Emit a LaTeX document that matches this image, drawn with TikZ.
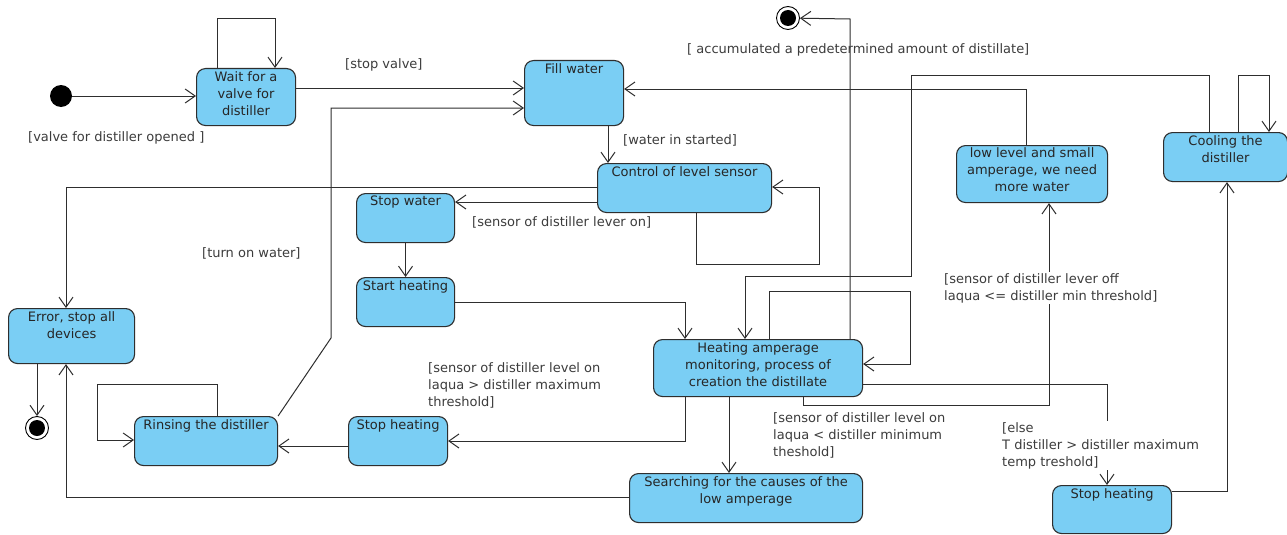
\documentclass[tikz,border=0pt]{standalone}
\usepackage{fontspec}
\setmainfont{DejaVu Sans}
\usetikzlibrary{arrows.meta}
\definecolor{stfill}{HTML}{7ACEF4}
\definecolor{stline}{HTML}{2E2E2E}
\definecolor{lbl}{HTML}{3C3C3C}
\begin{document}
\begin{tikzpicture}[x=1pt,y=-1pt,
  st/.style={draw=stline, fill=stfill, rounded corners=9pt, line width=1.1pt, inner sep=0pt, anchor=north west},
  ttl/.style={anchor=north, inner sep=0pt, align=center, font=\fontsize{13}{17}\selectfont, text=black!85},
  tr/.style={draw=stline, line width=1pt, -{Straight Barb[length=10pt,width=14pt,line width=1pt]}},
  gd/.style={anchor=north west, font=\fontsize{13}{17}\selectfont, text=lbl, align=left, inner sep=0pt},
  gdw/.style={gd, fill=white, inner sep=1pt},
  initst/.style={circle, fill=black, minimum size=22pt, inner sep=0pt},
  finst/.style={circle, draw=black, line width=0.9pt, fill=white, minimum size=23pt, inner sep=0pt, path picture={\fill[black] (path picture bounding box.center) circle (8pt);}},
]
\useasboundingbox (0,0) rectangle (1287,535);
\fill[white] (0,0) rectangle (1287,535);

% states
\node[initst] (ini) at (61,96) {};
\node[finst] (fin1) at (37,428) {};
\node[finst] (fin2) at (788,18) {};

\node[st, minimum width=99pt, minimum height=57pt] (wait) at (196,68) {};
\node[st, minimum width=99pt, minimum height=65pt] (fill) at (524,60) {};
\node[st, minimum width=174pt, minimum height=49pt] (ctrl) at (597,163) {};
\node[st, minimum width=98pt, minimum height=49pt] (stopw) at (356,193) {};
\node[st, minimum width=98pt, minimum height=49pt] (starth) at (356,277) {};
\node[st, minimum width=126pt, minimum height=55pt] (error) at (8,308) {};
\node[st, minimum width=143pt, minimum height=49pt] (rinse) at (134,416) {};
\node[st, minimum width=99pt, minimum height=49pt] (stoph1) at (348,416) {};
\node[st, minimum width=209pt, minimum height=57pt] (heat) at (653,339) {};
\node[st, minimum width=233pt, minimum height=49pt] (search) at (629,473) {};
\node[st, minimum width=151pt, minimum height=57pt] (low) at (956,145) {};
\node[st, minimum width=124pt, minimum height=49pt] (cool) at (1163,132) {};
\node[st, minimum width=119pt, minimum height=48pt] (stoph2) at (1052,485) {};

% state texts
\path (wait.north) ++(0,3) node[ttl] (waitT) {Wait for a\\valve for\\distiller};
\path (fill.north) ++(0,3) node[ttl] (fillT) {Fill water};
\path (ctrl.north) ++(0,3) node[ttl] (ctrlT) {Control of level sensor};
\path (stopw.north) ++(0,3) node[ttl] (stopwT) {Stop water};
\path (starth.north) ++(0,3) node[ttl] (starthT) {Start heating};
\path (error.north) ++(0,3) node[ttl] (errorT) {Error, stop all\\devices};
\path (rinse.north) ++(0,3) node[ttl] (rinseT) {Rinsing the distiller};
\path (stoph1.north) ++(0,3) node[ttl] (stoph1T) {Stop heating};
\path (heat.north) ++(0,3) node[ttl] (heatT) {Heating amperage\\monitoring, process of\\creation the distillate};
\path (search.north) ++(0,3) node[ttl] (searchT) {Searching for the causes of the\\low amperage};
\path (low.north) ++(0,2) node[ttl] (lowT) {low level and small\\amperage, we need\\more water};
\path (cool.north) ++(0,3) node[ttl] (coolT) {Cooling the\\distiller};
\path (stoph2.north) ++(0,3) node[ttl] (stoph2T) {Stop heating};

% transitions
\draw[tr] (ini) -- (ini -| wait.west);
\draw[tr] (wait.north -| 217,0) -- (217,19) -- (275,19) -- (wait.north -| 275,0);
\draw[tr] (wait.east |- 0,88) -- (fill.west |- 0,88);
\draw[tr] (rinse.north east) -- (331,338) -- (331,108) -- (fill.west |- 0,108);
\draw[tr] (fill.south -| 608,0) -- (ctrl.north -| 608,0);
\draw[tr] (ctrl.west |- 0,187) -- (66,187) -- (error.north -| 66,0);
\draw[tr] (ctrl.west |- 0,202) -- (stopw.east |- 0,202);
\draw[tr] (ctrl.south -| 696,0) -- (696,264) -- (819,264) -- (819,187) -- (ctrl.east |- 0,187);
\draw[tr] (stopw.south) -- (starth.north);
\draw[tr] (starth.east |- 0,302) -- (685,302) -- (heat.north -| 685,0);
\draw[tr] (error.south -| fin1) -- (fin1);
\draw[tr] (search.west |- 0,497) -- (66,497) -- (error.south -| 66,0);
\draw[tr] (rinse.north -| 217,0) -- (217,384) -- (97,384) -- (97,440) -- (rinse.west |- 0,440);
\draw[tr] (stoph1.west |- 0,446) -- (rinse.east |- 0,446);
\draw[tr] (heat.south -| 685,0) -- (685,441) -- (stoph1.east |- 0,441);
\draw[tr] (heat.south -| 729,0) -- (search.north -| 729,0);
\draw[tr] (heat.south -| 803,0) -- (803,405) -- (1049,405) -- (low.south -| 1049,0);
\draw[tr] (heat.east |- 0,384) -- (1107,384) -- (stoph2.north -| 1107,0);
\draw[tr] (stoph2.east |- 0,491) -- (1227,491) -- (cool.south -| 1227,0);
\draw[tr] (cool.north -| 1238,0) -- (1238,75) -- (1269,75) -- (cool.north -| 1269,0);
\draw[tr] (cool.north -| 1209,0) -- (1209,75) -- (911,75) -- (911,276) -- (745,276) -- (heat.north -| 745,0);
\draw[tr] (low.north -| 1026,0) -- (1026,89) -- (fill.east |- 0,89);
\draw[tr] (heat.north -| 769,0) -- (769,291) -- (910,291) -- (910,364) -- (heat.east |- 0,364);
\draw[tr] (heat.north -| 850,0) -- (850,19) -- (fin2);

% guards
\node[gd] (g1) at (28,131) {[valve for distiller opened ]};
\node[gd] (g2) at (345,58) {[stop valve]};
\node[gd] (g3) at (623,134) {[water in started]};
\node[gd] (g4) at (472,216) {[sensor of distiller lever on]};
\node[gd] (g5) at (202,247) {[turn on water]};
\node[gd] (g6) at (687,43) {[ accumulated a predetermined amount of distillate]};
\node[gdw] (g7) at (943,272) {[sensor of distiller lever off\\laqua <= distiller min threshold]};
\node[gd] (g8) at (428,362) {[sensor of distiller level on\\laqua > distiller maximum\\threshold]};
\node[gd] (g9) at (773,412) {[sensor of distiller level on\\laqua < distiller minimum\\theshold]};
\node[gdw] (g10) at (1001,421) {[else\\T distiller > distiller maximum\\temp treshold]};
\end{tikzpicture}
\end{document}
